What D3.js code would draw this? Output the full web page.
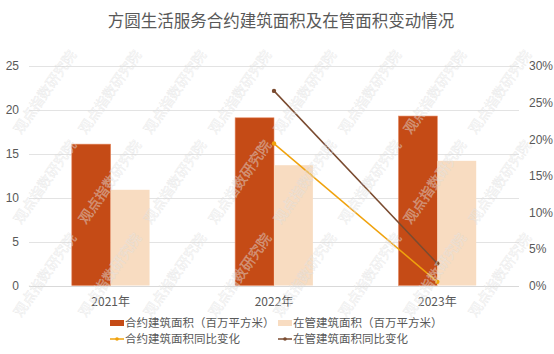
<!DOCTYPE html>
<html>
<head>
<meta charset="utf-8">
<script src="https://cdn.jsdelivr.net/npm/d3@7"></script>
<style>
  html, body { margin: 0; padding: 0; background: #fff; }
  svg { display: block; font-family: "Liberation Sans", "Noto Sans CJK SC", sans-serif; }
</style>
</head>
<body>
<div id="chart"></div>
<script>
const years = ["2021年", "2022年", "2023年"]
const contractArea = [16.1, 19.1, 19.3]   // 合约建筑面积（百万平方米）
const managedArea = [10.9, 13.7, 14.2]    // 在管建筑面积（百万平方米）
const contractYoY = [null, 0.194, 0.005]  // 合约建筑面积同比变化
const managedYoY = [null, 0.266, 0.03]    // 在管建筑面积同比变化
const leftTicks = [0, 5, 10, 15, 20, 25]
const rightTicks = [0, 0.05, 0.10, 0.15, 0.20, 0.25, 0.30]

const width = 554, height = 354
const margin = { top: 66, right: 35, bottom: 68.5, left: 29 }

const svg = d3.select("#chart")
  .append("svg")
  .attr("width", width)
  .attr("height", height)

const x = d3.scaleBand()
  .domain(years)
  .range([margin.left, width - margin.right])

const y = d3.scaleLinear()
  .domain([0, 25])
  .range([height - margin.bottom, margin.top])

const y2 = d3.scaleLinear()
  .domain([0, 0.30])
  .range([height - margin.bottom, margin.top])

const barW = x.bandwidth() * 0.238
const textColor = "#595959"
const cjk = "'Noto Sans CJK SC', sans-serif"

// 标题
svg.append("text")
  .attr("x", width / 2 + 4)
  .attr("y", 27)
  .attr("text-anchor", "middle")
  .attr("fill", "#595959")
  .style("font-family", cjk)
  .style("font-size", "16.5px")
  .text("方圆生活服务合约建筑面积及在管面积变动情况")

// 网格线
svg.append("g")
  .selectAll("line")
  .data(leftTicks)
  .join("line")
  .attr("x1", margin.left)
  .attr("x2", width - margin.right)
  .attr("y1", d => Math.round(y(d)) + 0.5)
  .attr("y2", d => Math.round(y(d)) + 0.5)
  .attr("stroke", d => d === 0 ? "#d9d9d9" : "#e3e3e3")
  .attr("stroke-width", 1)

// 左轴
const leftAxis = svg.append("g")
  .attr("transform", `translate(${margin.left - 10},0)`)
  .call(d3.axisLeft(y).tickValues(leftTicks).tickSize(0).tickPadding(0))
leftAxis.select(".domain").remove()
leftAxis.selectAll("text").attr("fill", textColor).style("font-size", "12px")

// 右轴
const rightAxis = svg.append("g")
  .attr("transform", `translate(${width - margin.right + 10},0)`)
  .call(d3.axisRight(y2).tickValues(rightTicks).tickFormat(d3.format(".0%")).tickSize(0).tickPadding(0))
rightAxis.select(".domain").remove()
rightAxis.selectAll("text").attr("fill", textColor).style("font-size", "12px")

// x轴标签
svg.append("g")
  .selectAll("text")
  .data(years)
  .join("text")
  .attr("x", d => x(d) + x.bandwidth() / 2)
  .attr("y", height - margin.bottom + 20)
  .attr("text-anchor", "middle")
  .attr("fill", textColor)
  .style("font-size", "12px")
  .style("font-family", cjk)
  .text(d => d)

// 柱子
const cx = d => x(d) + x.bandwidth() / 2
svg.append("g")
  .selectAll("rect")
  .data(years.map((d, i) => ({ year: d, v: contractArea[i] })))
  .join("rect")
  .attr("x", d => cx(d.year) - barW)
  .attr("y", d => y(d.v))
  .attr("width", barW)
  .attr("height", d => y(0) - y(d.v))
  .attr("fill", "#C54B16")
  .attr("stroke", "#E58A62")
  .attr("stroke-width", 0.6)

svg.append("g")
  .selectAll("rect")
  .data(years.map((d, i) => ({ year: d, v: managedArea[i] })))
  .join("rect")
  .attr("x", d => cx(d.year))
  .attr("y", d => y(d.v))
  .attr("width", barW)
  .attr("height", d => y(0) - y(d.v))
  .attr("fill", "#F8DCC1")

// 折线
const lineSeries = [
  { values: contractYoY, color: "#F0A20C" },
  { values: managedYoY, color: "#7A4B30" }
]
const line = d3.line()
  .defined(d => d.v != null)
  .x(d => cx(d.year))
  .y(d => y2(d.v))

lineSeries.forEach(s => {
  const pts = years.map((d, i) => ({ year: d, v: s.values[i] }))
  svg.append("path")
    .datum(pts)
    .attr("d", line)
    .attr("fill", "none")
    .attr("stroke", s.color)
    .attr("stroke-width", 1.5)
  svg.append("g")
    .selectAll("circle")
    .data(pts.filter(d => d.v != null))
    .join("circle")
    .attr("cx", d => cx(d.year))
    .attr("cy", d => y2(d.v))
    .attr("r", 2.2)
    .attr("fill", s.color)
})

// 水印
const wm = svg.append("g").attr("pointer-events", "none")
const wmRows = [92, 182, 275]
wmRows.forEach(ry => {
  for (let wx = 45; wx <= 510; wx += 65) {
    wm.append("text")
      .attr("transform", `translate(${wx},${ry}) rotate(-55)`)
      .attr("text-anchor", "middle")
      .attr("dy", "0.35em")
      .attr("fill", "#ffffff")
      .attr("fill-opacity", 0.3)
      .attr("stroke", "#cfcfcf")
      .attr("stroke-opacity", 0.45)
      .attr("stroke-width", 0.5)
      .style("font-family", cjk)
      .style("font-size", "14px")
      .text("观点指数研究院")
  }
})

// 图例
const legend = svg.append("g").style("font-family", cjk).style("font-size", "11.5px")
const legendItems = [
  { label: "合约建筑面积（百万平方米）", type: "rect", color: "#C54B16", x: 110, y: 323 },
  { label: "在管建筑面积（百万平方米）", type: "rect", color: "#F8DCC1", x: 278, y: 323 },
  { label: "合约建筑面积同比变化", type: "line", color: "#F0A20C", x: 110, y: 339 },
  { label: "在管建筑面积同比变化", type: "line", color: "#7A4B30", x: 278, y: 339 }
]
legendItems.forEach(it => {
  const g = legend.append("g")
  if (it.type === "rect") {
    g.append("rect").attr("x", it.x).attr("y", it.y - 3).attr("width", 14).attr("height", 6).attr("fill", it.color)
  } else {
    g.append("line").attr("x1", it.x).attr("x2", it.x + 14).attr("y1", it.y).attr("y2", it.y)
      .attr("stroke", it.color).attr("stroke-width", 1.5)
    g.append("circle").attr("cx", it.x + 7).attr("cy", it.y).attr("r", 1.8).attr("fill", it.color)
  }
  g.append("text").attr("x", it.x + 15).attr("y", it.y).attr("dy", "0.35em")
    .attr("fill", textColor).text(it.label)
})
</script>
</body>
</html>
